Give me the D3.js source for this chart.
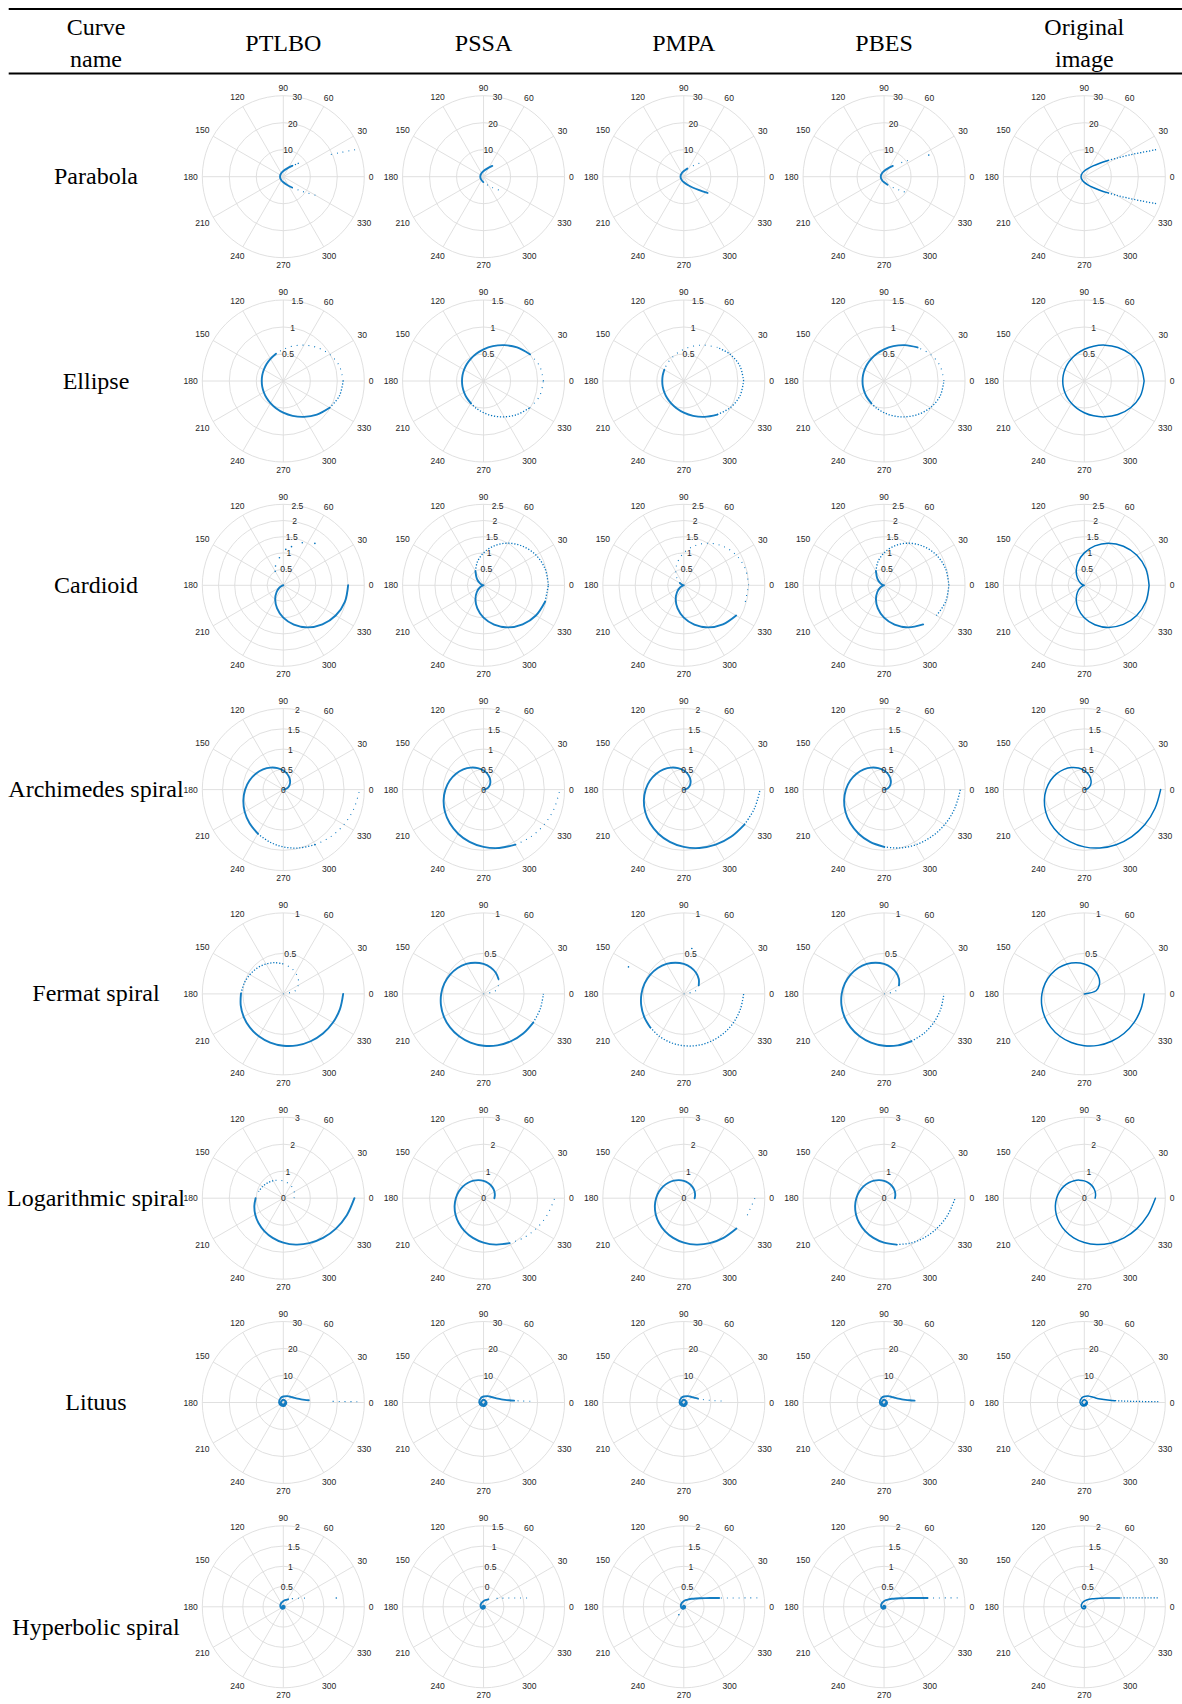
<!DOCTYPE html>
<html>
<head>
<meta charset="utf-8">
<script src="https://cdn.jsdelivr.net/npm/d3@7"></script>
<style>
  body { margin: 0; background: #fff; }
  svg { display: block; }
</style>
</head>
<body>
<svg id="chart" width="1182" height="1704"></svg>
<script>
// ---------- table labels ----------
const methods = ["PTLBO", "PSSA", "PMPA", "PBES"];
const originalHeader = ["Original", "image"];
const nameHeader = ["Curve", "name"];
const curveNames = ["Parabola", "Ellipse", "Cardioid", "Archimedes spiral",
  "Fermat spiral", "Logarithmic spiral", "Lituus", "Hyperbolic spiral"];

// ---------- polar axis settings ----------
const thetaTicks = [0, 30, 60, 90, 120, 150, 180, 210, 240, 270, 300, 330];
const rLimits = [[0, 30], [0, 1.5], [0, 2.5], [0, 2], [0, 1], [0, 3], [0, 30], [0, 2]];
const rTicks = [
  [10, 20, 30], [0.5, 1, 1.5], [0.5, 1, 1.5, 2, 2.5], [0, 0.5, 1, 1.5, 2],
  [0.5, 1], [0, 1, 2, 3], [10, 20, 30], [0.5, 1, 1.5, 2]
];

// ---------- curve samples: angle (deg), radius ----------
const parabolaTheta = [20.6, 22.9, 25.8, 29.4, 34.3, 41.1, 51.0, 66.6, 92.6, 111.0, 132.7, 156.2, 180,
  203.8, 227.3, 249.0, 267.4, 293.4, 309.0, 318.9, 325.7, 330.6, 334.2, 337.1, 339.4];
const parabolaR = [28.4, 23.1, 18.4, 14.25, 10.65, 7.61, 5.15, 3.27, 2.0, 1.61, 1.36, 1.24, 1.2,
  1.24, 1.36, 1.61, 2.0, 3.27, 5.15, 7.61, 10.65, 14.25, 18.4, 23.1, 28.4];

const ellipseTheta = [0, 15, 30, 45, 60, 75, 90, 105, 120, 135, 150, 165, 180,
  195, 210, 225, 240, 255, 270, 285, 300, 315, 330, 345, 360];
const ellipseR = [1.108, 1.075, 0.990, 0.879, 0.767, 0.668, 0.587, 0.523, 0.475, 0.441, 0.417, 0.404, 0.399,
  0.404, 0.417, 0.441, 0.475, 0.523, 0.587, 0.668, 0.767, 0.879, 0.990, 1.075, 1.108];

const cardioidTheta = ellipseTheta;
const cardioidR = [2.0, 1.966, 1.866, 1.707, 1.5, 1.259, 1.0, 0.741, 0.5, 0.293, 0.134, 0.034, 0,
  0.034, 0.134, 0.293, 0.5, 0.741, 1.0, 1.259, 1.5, 1.707, 1.866, 1.966, 2.0];

const archTheta = ellipseTheta;
const archR = [0, 0.079, 0.157, 0.236, 0.314, 0.393, 0.471, 0.550, 0.628, 0.707, 0.785, 0.864, 0.942,
  1.021, 1.100, 1.178, 1.257, 1.335, 1.414, 1.492, 1.571, 1.649, 1.728, 1.806, 1.885];

const fermatTheta = ellipseTheta;
const fermatR = [0, 0.151, 0.213, 0.261, 0.302, 0.338, 0.370, 0.399, 0.427, 0.453, 0.477, 0.501, 0.523,
  0.544, 0.565, 0.585, 0.604, 0.622, 0.640, 0.658, 0.675, 0.692, 0.708, 0.724, 0.739];

const logTheta = ellipseTheta;
const logR = [0.400, 0.433, 0.468, 0.506, 0.548, 0.592, 0.641, 0.693, 0.750, 0.811, 0.877, 0.949, 1.026,
  1.110, 1.201, 1.299, 1.405, 1.520, 1.644, 1.779, 1.924, 2.081, 2.251, 2.435, 2.634];

const lituusTheta = [0.6, 1, 1.5, 2.3, 3.5, 5, 7, 10, 15, 22, 30, 45, 60, 90, 120, 180, 240, 300, 360,
  450, 540, 630, 720];
const lituusR = [27.4, 21.2, 17.3, 13.97, 11.33, 9.48, 8.01, 6.70, 5.47, 4.52, 3.87, 3.16, 2.74, 2.23,
  1.93, 1.58, 1.37, 1.22, 1.12, 1.00, 0.912, 0.844, 0.790];

const hyperTheta = [6.9, 8, 9.5, 11.5, 14, 17.2, 22, 28, 35, 45, 57.3, 75, 95, 120, 150, 180, 225, 270,
  360, 450, 540, 720];
const hyperR = [1.827, 1.576, 1.327, 1.096, 0.900, 0.733, 0.573, 0.450, 0.360, 0.280, 0.220, 0.168,
  0.133, 0.105, 0.084, 0.070, 0.056, 0.047, 0.035, 0.028, 0.0233, 0.0175];
// PSSA hyperbolic result, on its own radial axis running from -0.5
const pssaHyperR = [1.327, 1.076, 0.827, 0.596, 0.400, 0.233, 0.073, -0.050, -0.140, -0.220, -0.280,
  -0.332, -0.367, -0.395, -0.416, -0.430, -0.444, -0.453, -0.465, -0.472, -0.477, -0.483];

const curveTheta = [parabolaTheta, ellipseTheta, cardioidTheta, archTheta, fermatTheta, logTheta, lituusTheta, hyperTheta];
const curveR = [parabolaR, ellipseR, cardioidR, archR, fermatR, logR, lituusR, hyperR];

// panels whose radial axis differs from the rest of the row
const panelAxis = {
  "7-1": { lim: [-0.5, 1.5], ticks: [0, 0.5, 1, 1.5], r: pssaHyperR }
};

// ---------- recovered portions per method: [fromDeg, toDeg, density] ----------
// density: d = dense points, m = medium dotted, s = sparse points, l = continuous curve
const parabolaRuns = [
  [[51, 309, "d"], [41, 51, "m"], [20.6, 26, "s"], [309, 331, "s"]],
  [[44, 290, "d"], [290, 322, "s"]],
  [[60, 328, "d"], [35, 60, "s"]],
  [[48, 300, "d"], [34, 48, "s"], [300, 328, "s"]],
  [[34, 326, "l"], [20.6, 34.3, "m"], [325.7, 339.4, "m"]]
];
const ellipseRuns = [
  [[105, 330, "d"], [330, 360, "m"], [0, 105, "s"]],
  [[30, 240, "d"], [240, 330, "m"], [0, 30, "s"], [330, 360, "s"]],
  [[150, 315, "d"], [315, 360, "m"], [0, 45, "m"], [45, 150, "s"]],
  [[45, 240, "d"], [240, 360, "m"], [0, 45, "s"]],
  [[0, 360, "l"]]
];
const cardioidRuns = [
  [[180, 360, "d"], [0, 5, "m"]],
  [[120, 345, "d"], [345, 360, "m"], [0, 120, "m"]],
  [[150, 340, "d"], [340, 360, "s"], [0, 150, "s"]],
  [[120, 320, "d"], [320, 360, "m"], [0, 120, "m"]],
  [[0, 360, "l"]]
];
const archRuns = [
  [[0, 240, "d"], [240, 300, "m"], [300, 360, "s"]],
  [[0, 300, "d"], [300, 360, "s"]],
  [[0, 330, "d"], [330, 360, "m"]],
  [[0, 270, "d"], [270, 360, "m"]],
  [[0, 360, "l"]]
];
const fermatRuns = [
  [[0, 90, "s"], [90, 180, "m"], [180, 360, "d"]],
  [[0, 45, "s"], [45, 330, "d"], [330, 360, "m"]],
  [[30, 225, "d"], [225, 360, "m"], [0, 30, "s"]],
  [[30, 300, "d"], [300, 360, "m"], [0, 30, "s"]],
  [[0, 360, "l"]]
];
const logRuns = [
  [[0, 120, "s"], [120, 170, "m"], [170, 360, "d"]],
  [[0, 300, "d"], [300, 360, "s"]],
  [[0, 340, "d"], [340, 360, "s"]],
  [[0, 285, "d"], [285, 360, "m"]],
  [[0, 360, "l"]]
];
const lituusRuns = [
  [[5, 720, "d"], [0.6, 1.5, "s"]],
  [[3.5, 720, "d"], [1.5, 3.5, "s"]],
  [[15, 720, "d"], [2.3, 15, "s"]],
  [[3.5, 720, "d"]],
  [[3.5, 720, "l"], [0.6, 3.5, "m"]]
];
const hyperRuns = [
  [[57.3, 720, "d"], [22, 45, "s"]],
  [[57.3, 720, "d"], [11.5, 35, "s"]],
  [[14, 720, "d"], [6.9, 14, "s"]],
  [[11.5, 720, "d"], [6.9, 11.5, "s"]],
  [[14, 720, "l"], [6.9, 14, "m"]]
];
const allRuns = [parabolaRuns, ellipseRuns, cardioidRuns, archRuns, fermatRuns, logRuns, lituusRuns, hyperRuns];

// isolated points per panel: [angle deg, radius]
const strayPoints = {
  "0-3": [[25.8, 18.4]],
  "2-0": [[53, 1.62], [66, 1.44], [78, 1.22], [86, 1.11], [98, 0.86], [112, 0.64], [120, 0.5]],
  "4-2": [[154, 0.76], [80, 0.57]],
  "7-0": [[9.5, 1.327]],
  "7-2": [[238, 0.23]]
};

// ---------- layout ----------
const W = 1182, R = 81;
const colX0 = 283.3, colStep = 200.25;
const rowY0 = 176.7, rowStep = 204.3;
const blue = "#0072BD", gridColor = "#dcdcdc", labelColor = "#262626";
const serif = "'Liberation Serif', 'Times New Roman', serif";
const sans = "'Liberation Sans', Arial, Helvetica, sans-serif";

const svg = d3.select("#chart");

// header rules
svg.append("line").attr("x1", 8.7).attr("x2", W).attr("y1", 9).attr("y2", 9)
  .attr("stroke", "#000").attr("stroke-width", 2);
svg.append("line").attr("x1", 8.7).attr("x2", W).attr("y1", 73.5).attr("y2", 73.5)
  .attr("stroke", "#000").attr("stroke-width", 2);

function serifText(x, y, s) {
  svg.append("text").attr("x", x).attr("y", y).attr("text-anchor", "middle")
    .attr("font-family", serif).attr("font-size", 24).attr("fill", "#000").text(s);
}
serifText(96, 35, nameHeader[0]);
serifText(96, 66.5, nameHeader[1]);
methods.forEach((m, i) => serifText(colX0 + colStep * i, 50.5, m));
serifText(colX0 + colStep * 4, 35, originalHeader[0]);
serifText(colX0 + colStep * 4, 66.5, originalHeader[1]);

curveNames.forEach((n, j) => {
  const dy = j === 7 ? 28.5 : 7.5;
  serifText(96, rowY0 + rowStep * j + dy, n);
});

const radial = d3.lineRadial()
  .angle(d => (90 - d[0]) * Math.PI / 180)
  .curve(d3.curveCatmullRom.alpha(0.5));

function drawPanel(row, col) {
  const cx = colX0 + colStep * col, cy = rowY0 + rowStep * row;
  const ov = panelAxis[`${row}-${col}`] || {};
  const lim = ov.lim || rLimits[row];
  const ticks = ov.ticks || rTicks[row];
  const rs = d3.scaleLinear().domain(lim).range([0, R]);
  const g = svg.append("g").attr("transform", `translate(${cx},${cy})`);

  // rings
  const ringVals = Array.from(new Set(ticks.filter(t => t > lim[0]).concat([lim[1]])));
  g.selectAll("circle.ring").data(ringVals).join("circle")
    .attr("r", d => rs(d)).attr("fill", "none")
    .attr("stroke", gridColor).attr("stroke-width", 0.9);
  // spokes
  g.selectAll("line.spoke").data(thetaTicks).join("line")
    .attr("x1", 0).attr("y1", 0)
    .attr("x2", d => R * Math.cos(d * Math.PI / 180))
    .attr("y2", d => -R * Math.sin(d * Math.PI / 180))
    .attr("stroke", gridColor).attr("stroke-width", 0.9);

  // angle labels
  const fs = 8.6;
  g.selectAll("text.th").data(thetaTicks).join("text")
    .each(function (d) {
      const a = d * Math.PI / 180, s = String(d);
      const hw = 0.28 * fs * s.length, hh = 0.37 * fs;
      const dist = R + 4.5 + hw * Math.abs(Math.cos(a)) + hh * Math.abs(Math.sin(a));
      d3.select(this).attr("x", dist * Math.cos(a)).attr("y", -dist * Math.sin(a))
        .attr("text-anchor", "middle").attr("dominant-baseline", "central");
    })
    .attr("font-family", sans).attr("font-size", fs).attr("fill", labelColor)
    .text(d => d);

  // curve
  const th = curveTheta[row], rr = ov.r || curveR[row];
  const pts = th.map((t, i) => [t, rr[i]]);
  radial.radius(d => rs(d[1]));
  const runs = allRuns[row][col];
  const styles = {
    l: { w: 1.5, dash: null, o: 1 },
    d: { w: 1.9, dash: null, o: 0.92 },
    m: { w: 1.3, dash: "1.2 1.8", o: 1 },
    s: { w: 1.1, dash: "0.9 5", o: 1 }
  };
  runs.forEach(([a0, a1, kind]) => {
    const seg = pts.filter(p => p[0] >= a0 && p[0] <= a1);
    if (seg.length < 2) return;
    const st = styles[kind];
    g.append("path").attr("d", radial(seg)).attr("fill", "none")
      .attr("stroke", blue).attr("stroke-width", st.w).attr("stroke-opacity", st.o)
      .attr("stroke-linecap", kind === "l" || kind === "d" ? "round" : "butt")
      .attr("stroke-linejoin", "round")
      .attr("stroke-dasharray", st.dash);
  });
  const strays = strayPoints[`${row}-${col}`] || [];
  g.selectAll("circle.pt").data(strays).join("circle")
    .attr("cx", d => rs(d[1]) * Math.cos(d[0] * Math.PI / 180))
    .attr("cy", d => -rs(d[1]) * Math.sin(d[0] * Math.PI / 180))
    .attr("r", 0.8).attr("fill", blue);

  // radial labels along 80 degrees
  const ra = 80 * Math.PI / 180;
  g.selectAll("text.rt").data(ticks).join("text")
    .attr("x", d => rs(d) * Math.cos(ra))
    .attr("y", d => -rs(d) * Math.sin(ra))
    .attr("text-anchor", "middle").attr("dominant-baseline", "central")
    .attr("font-family", sans).attr("font-size", fs).attr("fill", labelColor)
    .text(d => String(d));
}

for (let row = 0; row < 8; row++) {
  for (let col = 0; col < 5; col++) drawPanel(row, col);
}
</script>
</body>
</html>
